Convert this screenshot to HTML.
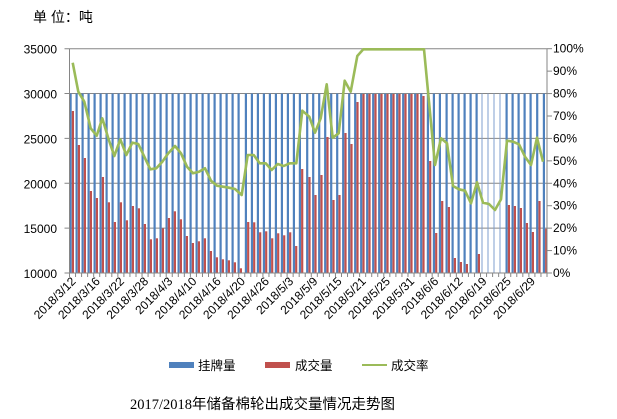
<!DOCTYPE html>
<html><head><meta charset="utf-8"><style>
html,body{margin:0;padding:0;background:#fff;}
svg{display:block;}
text{font-family:"Liberation Sans","Noto Sans CJK SC",sans-serif;}
</style></head><body>
<svg id="c" width="617" height="419" xmlns="http://www.w3.org/2000/svg"></svg>
<script>
const s=document.getElementById('c');let h='';
const L=69.5,R=547,T=48.7,B=273;
const vy=v=>B-(v-10000)*(B-T)/25000;
h+='<text x="33" y="22" font-size="14" fill="#000">单 位：吨</text>';
for(let v=10000;v<=35000;v+=5000){const y=vy(v);
 h+=`<line x1="${L-5}" y1="${y}" x2="${R}" y2="${y}" stroke="#868686" stroke-width="1"/>`;
 h+=`<text x="57" y="${y+5}" font-size="12" text-anchor="end" fill="#000">${v}</text>`;}
for(let p=0;p<=10;p++){const y=B-p*(B-T)/10;
 h+=`<line x1="${R}" y1="${y}" x2="${R+5}" y2="${y}" stroke="#868686"/>`;
 h+=`<text x="553" y="${y+4}" font-size="12" fill="#000">${p*10}%</text>`;}
const r1=[[38,213],[56,315],[74,354],[92,453],[110,474],[128,411],[146,487],[164,546],[182,487],[200,541],[218,498],[236,505],[254,552],[272,598],[290,595],[308,565],[326,534],[344,514],[362,538],[380,588],[398,609],[416,604],[434,595],[452,633],[470,652],[488,658],[506,661],[524,667],[542,685],[564,546],[582,547],[600,577],[618,574],[636,595],[654,580],[672,586],[690,577],[708,618],[726,387]];
const r2=[[28,411],[46,465],[64,405],[82,291],[100,480],[118,465],[136,279],[154,312],[172,186],[190,162],[208,162],[226,162],[244,162],[262,162],[280,162],[298,162],[316,162],[334,162],[352,162],[370,168],[390,363],[408,579],[426,483],[446,501],[464,654],[482,666],[500,672],[518,null],[536,642],[554,null],[572,null],[590,null],[608,null],[626,495],[644,498],[662,504],[680,549],[698,576],[718,483],[738,566]];
const bars=[];r1.forEach(p=>bars.push([60+p[0]/3,p[1]]));r2.forEach(p=>bars.push([300+p[0]/3,p[1]]));
bars.forEach((b,i)=>{const x=b[0];const thin=(i>=68&&i<=71);
 h+=`<rect x="${(x-3.2).toFixed(1)}" y="${vy(30000)}" width="${thin?1:2.2}" height="${B-vy(30000)}" fill="${thin?'#7f9fcf':'#4f81bd'}"/>`;
 if(b[1]!=null){const y=40+b[1]/3;h+=`<rect x="${(x-0.9).toFixed(1)}" y="${y.toFixed(1)}" width="2.2" height="${(B-y).toFixed(1)}" fill="#c0504d"/>`;}
});
h+=`<line x1="${L}" y1="${T}" x2="${L}" y2="${B}" stroke="#868686"/>`;
h+=`<line x1="${R}" y1="${T}" x2="${R}" y2="${B}" stroke="#868686"/>`;
h+=`<line x1="${L-5}" y1="${B}" x2="${R}" y2="${B}" stroke="#868686"/>`;
const n=79,w=(R-L)/n;
for(let i=0;i<=n;i++){const x=L+i*w;h+=`<line x1="${x}" y1="${B}" x2="${x}" y2="${B+4}" stroke="#868686"/>`;}
const labs=["2018/3/12","2018/3/16","2018/3/22","2018/3/28","2018/4/3","2018/4/10","2018/4/16","2018/4/20","2018/4/26","2018/5/3","2018/5/9","2018/5/15","2018/5/21","2018/5/25","2018/5/31","2018/6/6","2018/6/12","2018/6/19","2018/6/25","2018/6/29"];
labs.forEach((t,k)=>{const x=L+(k*4+0.5)*w+4;const y=B+9;
 h+=`<text transform="translate(${x.toFixed(1)},${y}) rotate(-45)" font-size="12" text-anchor="end" fill="#000">${t}</text>`;});
const g1=[[38,68],[55,155],[73,185],[92,265],[110,287],[127,235],[145,295],[163,348],[181,298],[199,345],[217,308],[235,312],[253,350],[271,388],[289,385],[307,365],[325,340],[345,318],[363,340],[381,380],[399,400],[417,395],[435,385],[453,422],[471,437],[489,440],[507,443],[525,447],[545,465],[563,345],[581,345],[599,370],[617,370],[635,390],[653,372],[671,378],[689,370],[709,370],[727,212]];
const g2=[[28,230],[45,278],[62,235],[80,133],[98,293],[116,280],[134,122],[152,155],[172,48],[190,28],[372,28],[405,375],[423,295],[441,310],[459,438],[477,448],[495,452],[513,490],[531,427],[549,488],[567,492],[585,510],[603,478],[621,302],[639,305],[657,313],[675,350],[693,375],[711,293],[729,365]];
const pts=g1.map(p=>[60+p[0]/3,40+p[1]/3]).concat(g2.map(p=>[300+p[0]/3,40+p[1]/3]));
h+=`<polyline points="${pts.map(p=>p[0].toFixed(1)+','+p[1].toFixed(1)).join(' ')}" fill="none" stroke="#9bbb59" stroke-width="2.6" stroke-linejoin="round"/>`;
h+='<rect x="169" y="362" width="25" height="6" fill="#4f81bd"/><text x="198" y="370" font-size="12.5">挂牌量</text>';
h+='<rect x="265" y="362" width="25" height="6" fill="#c0504d"/><text x="295" y="370" font-size="12.5">成交量</text>';
h+='<line x1="362" y1="365" x2="387" y2="365" stroke="#9bbb59" stroke-width="2"/><text x="391" y="370" font-size="12.5">成交率</text>';
h+='<text x="130" y="409" font-size="14.5"><tspan font-family="Liberation Serif,serif">2017/2018</tspan>年储备棉轮出成交量情况走势图</text>';
s.innerHTML=h;
</script>
</body></html>
